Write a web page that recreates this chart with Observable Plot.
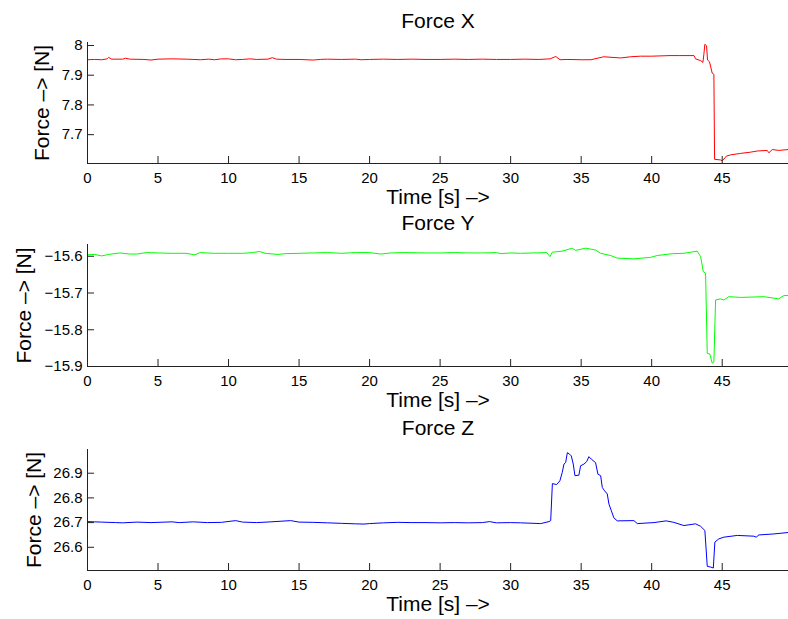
<!DOCTYPE html>
<html>
<head>
<meta charset="utf-8">
<script src="https://cdn.jsdelivr.net/npm/d3@7"></script>
<script src="https://cdn.jsdelivr.net/npm/@observablehq/plot@0.6"></script>
<style>
  html, body { margin: 0; padding: 0; background: white; }
  #wrap { position: relative; width: 788px; height: 619px; overflow: hidden; }
  #wrap svg { position: absolute; left: 0; top: 0; }
</style>
</head>
<body>
<div id="wrap"></div>
<script>
const titles = ["Force X", "Force Y", "Force Z"];
const xLabel = "Time [s] –>";
const yLabel = "Force –> [N]";
const xTicks = [0, 5, 10, 15, 20, 25, 30, 35, 40, 45];
const yTicksX = [7.7, 7.8, 7.9, 8];
const yTicksY = [-15.9, -15.8, -15.7, -15.6];
const yTicksZ = [26.6, 26.7, 26.8, 26.9];

const tX = [0,0.5,1.0,1.4,1.5,1.7,2.5,2.7,3.0,4.0,4.5,5.0,6.0,7.0,8.0,8.6,9.0,9.5,10.0,10.5,11.0,11.5,12.0,12.8,13.1,13.4,14.0,15.0,16.0,16.5,17.0,18.0,19.0,19.4,20.0,21.0,22.0,23.0,24.0,25.0,26.0,27.0,28.0,29.0,30.0,31.0,32.0,32.8,33.2,33.5,34.0,35.0,35.7,36.6,37.8,38.5,39.2,40.0,41.3,42.0,43.0,43.11,43.47,43.63,43.7,43.77,43.89,43.96,44.1,44.29,44.41,44.46,44.88,45.0,45.12,45.3,45.59,46.3,47.0,47.48,48.19,48.31,48.55,49.01,49.7];
const fX = [7.952,7.953,7.952,7.955,7.960,7.954,7.954,7.957,7.954,7.953,7.951,7.954,7.955,7.954,7.952,7.954,7.952,7.955,7.955,7.952,7.953,7.955,7.953,7.954,7.959,7.954,7.953,7.953,7.951,7.953,7.954,7.953,7.954,7.952,7.953,7.954,7.953,7.954,7.953,7.953,7.954,7.953,7.954,7.953,7.953,7.954,7.953,7.955,7.963,7.952,7.953,7.952,7.952,7.962,7.958,7.962,7.964,7.964,7.966,7.966,7.966,7.955,7.949,7.943,7.970,8.004,7.999,7.951,7.945,7.907,7.903,7.617,7.615,7.612,7.618,7.628,7.632,7.637,7.641,7.645,7.647,7.639,7.650,7.647,7.650];

const tY = [0,0.5,1.0,1.5,2.3,3.0,3.5,4.2,5.0,6.0,7.0,7.6,8.0,9.0,10.0,11.0,11.7,12.2,12.6,13.5,14.0,15.0,16.0,17.0,18.0,19.0,20.0,20.8,21.5,22.5,24.0,25.0,26.0,27.0,28.0,29.0,29.3,30.0,30.71,32.55,32.79,32.95,33.66,34.37,34.61,35.32,36.02,36.38,37.09,37.56,38.74,39.92,40.4,41.46,42.28,43.23,43.47,43.66,43.82,43.94,44.12,44.29,44.41,44.53,44.88,45.12,45.47,46.3,47.95,49.01,49.37,49.7];
const fY = [-15.596,-15.595,-15.599,-15.595,-15.591,-15.594,-15.594,-15.590,-15.591,-15.592,-15.592,-15.596,-15.590,-15.592,-15.592,-15.592,-15.590,-15.587,-15.592,-15.595,-15.593,-15.592,-15.591,-15.590,-15.592,-15.590,-15.590,-15.594,-15.591,-15.590,-15.591,-15.591,-15.590,-15.591,-15.591,-15.590,-15.593,-15.591,-15.592,-15.590,-15.601,-15.589,-15.586,-15.578,-15.584,-15.578,-15.583,-15.592,-15.598,-15.605,-15.607,-15.603,-15.598,-15.593,-15.592,-15.586,-15.601,-15.642,-15.646,-15.864,-15.866,-15.891,-15.888,-15.719,-15.716,-15.719,-15.710,-15.712,-15.710,-15.716,-15.707,-15.707];

const tZ = [0,0.5,1.0,2.0,2.5,3.5,4.5,5.5,6.0,6.5,7.5,8.5,9.5,10.5,11.0,12.0,13.0,14.4,15.0,16.0,17.0,18.0,19.0,19.6,20.0,21.0,22.0,23.0,24.0,25.0,26.0,27.0,28.0,28.5,29.0,30.0,30.71,32.13,32.72,32.84,32.96,33.26,33.49,33.66,33.78,33.9,34.02,34.18,34.3,34.44,34.56,34.84,34.96,35.2,35.39,35.55,35.72,36.02,36.19,36.38,36.5,36.66,36.85,36.97,37.14,37.32,37.56,38.74,38.98,40.16,41.03,41.57,42.28,43.11,43.47,43.77,43.94,44.17,44.37,44.48,44.76,45.12,46.07,47.24,47.41,47.6,48.66,49.7];
const fZ = [26.704,26.703,26.702,26.700,26.699,26.702,26.700,26.702,26.703,26.700,26.703,26.700,26.701,26.708,26.702,26.700,26.703,26.708,26.702,26.701,26.699,26.697,26.695,26.694,26.696,26.699,26.701,26.700,26.700,26.699,26.700,26.699,26.700,26.704,26.699,26.700,26.699,26.696,26.704,26.708,26.858,26.854,26.869,26.903,26.937,26.943,26.983,26.977,26.970,26.937,26.890,26.892,26.930,26.937,26.947,26.967,26.957,26.943,26.896,26.890,26.842,26.829,26.816,26.775,26.748,26.719,26.707,26.708,26.696,26.700,26.707,26.701,26.688,26.695,26.685,26.668,26.523,26.520,26.516,26.621,26.634,26.641,26.648,26.645,26.641,26.650,26.654,26.660];

const font = "'Liberation Sans', Arial, Helvetica, sans-serif";
const fmt = d => String(d).replace("-", "\u2212");
const W = 788, H = 619, ML = 87;

const panels = [
  {title: titles[0], t: tX, f: fX, color: "#ff0000", ticks: yTicksX, domain: [7.603, 8.010], top: 42, bottom: 163, ylabDx: -45},
  {title: titles[1], t: tY, f: fY, color: "#00ff00", ticks: yTicksY, domain: [-15.9, -15.568], top: 244, bottom: 366, ylabDx: -63},
  {title: titles[2], t: tZ, f: fZ, color: "#0000ff", ticks: yTicksZ, domain: [26.506, 26.996], top: 449, bottom: 570, ylabDx: -53}
];

const wrap = document.getElementById("wrap");
for (const p of panels) {
  const data = p.t.map((t, i) => ({t, v: p.f[i]}));
  const areaH = p.bottom - p.top;
  const areaW = W - ML;
  const chart = Plot.plot({
    width: W, height: H,
    marginLeft: ML, marginRight: 0, marginTop: p.top, marginBottom: H - p.bottom,
    style: {background: "transparent", fontFamily: font, fontSize: "15px", color: "#000", overflow: "visible"},
    x: {domain: [0, 49.7]},
    y: {domain: p.domain},
    marks: [
      Plot.line(data, {x: "t", y: "v", stroke: p.color, strokeWidth: 1}),
      Plot.ruleY([p.domain[0]], {stroke: "#222"}),
      Plot.ruleX([0], {stroke: "#222"}),
      Plot.tickX(xTicks, {x: d => d, insetTop: areaH - 7, stroke: "#222"}),
      Plot.tickY(p.ticks, {y: d => d, insetRight: areaW - 7, stroke: "#222"}),
      Plot.axisX(xTicks, {tickSize: 0, tickPadding: 9, fontSize: 15, label: null, tickFormat: fmt}),
      Plot.axisY(p.ticks, {tickSize: 0, tickPadding: 5, fontSize: 15, label: null, tickFormat: fmt}),
      Plot.text([p.title], {frameAnchor: "top", textAnchor: "middle", lineAnchor: "middle", dy: -21, fontSize: 21, fill: "#000"}),
      Plot.text([xLabel], {frameAnchor: "bottom", textAnchor: "middle", lineAnchor: "middle", dy: 34, fontSize: 21, fill: "#000"}),
      Plot.text([yLabel], {frameAnchor: "left", textAnchor: "middle", lineAnchor: "middle", rotate: -90, dx: p.ylabDx, fontSize: 21, fill: "#000"})
    ]
  });
  wrap.appendChild(chart);
}
</script>
</body>
</html>
